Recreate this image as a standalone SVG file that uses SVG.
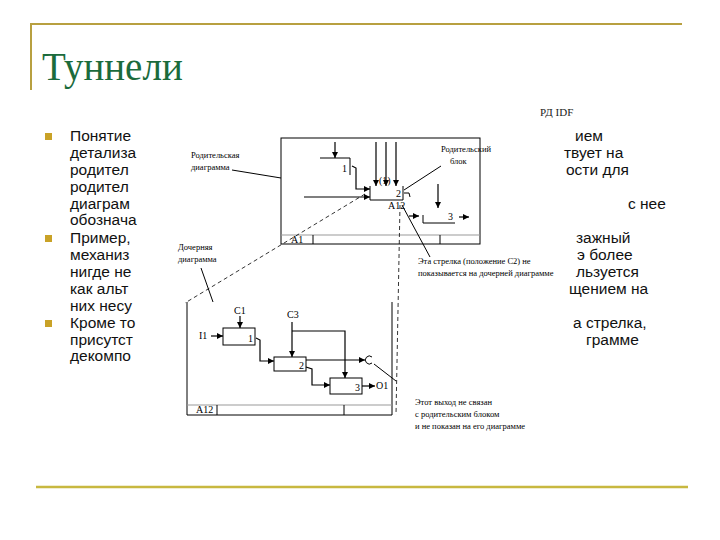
<svg xmlns="http://www.w3.org/2000/svg" width="720" height="540" viewBox="0 0 720 540">
<defs>
<marker id="ah" viewBox="0 0 10 10" refX="10" refY="5" markerWidth="5" markerHeight="5" orient="auto"><path d="M0,0 L10,5 L0,10 z" fill="#000"/></marker>
<style>
.t{font-family:"Liberation Sans",Arial,sans-serif;font-size:15.5px;fill:#111}
.s{font-family:"Liberation Serif","Times New Roman",serif;font-size:8.5px;fill:#000}
.n{font-family:"Liberation Serif","Times New Roman",serif;font-size:10px;fill:#000}
.l{stroke:#000;stroke-width:1;fill:none}
.a{stroke:#000;stroke-width:1.2;fill:none;marker-end:url(#ah)}
.d{stroke:#000;stroke-width:0.8;fill:none;stroke-dasharray:4,3}
.g{stroke:#999;stroke-width:1}
.b{fill:#c9a227}
</style>
</defs>
<rect width="720" height="540" fill="#fff"/>
<g id="frame">
<line x1="30" y1="24" x2="682" y2="24" stroke="#b8a040" stroke-width="2"/>
<line x1="31" y1="23" x2="31" y2="90" stroke="#b8a040" stroke-width="2"/>
<line x1="36" y1="487" x2="688" y2="487" stroke="#c8b840" stroke-width="2.5"/>
<text x="42" y="80" font-family="Liberation Serif,serif" font-size="39" fill="#1b6b3c">Туннели</text>
</g>
<g id="body">
<rect class="b" x="45" y="133" width="7" height="7"/>
<rect class="b" x="45" y="235" width="7" height="7"/>
<rect class="b" x="45" y="320" width="7" height="7"/>
<text class="t" x="70" y="141">Понятие</text>
<text class="t" x="70" y="158">детализа</text>
<text class="t" x="70" y="175">родител</text>
<text class="t" x="70" y="192">родител</text>
<text class="t" x="70" y="209">диаграм</text>
<text class="t" x="70" y="225">обознача</text>
<text class="t" x="70" y="243">Пример,</text>
<text class="t" x="70" y="260">механиз</text>
<text class="t" x="70" y="277">нигде не</text>
<text class="t" x="70" y="294">как альт</text>
<text class="t" x="70" y="311">них несу</text>
<text class="t" x="70" y="328">Кроме то</text>
<text class="t" x="70" y="345">присутст</text>
<text class="t" x="70" y="361">декомпо</text>
<text class="t" x="575" y="141">ием</text>
<text class="t" x="564" y="158">твует на</text>
<text class="t" x="566" y="175">ости для</text>
<text class="t" x="628" y="209">с нее</text>
<text class="t" x="576" y="243">зажный</text>
<text class="t" x="577" y="260">э более</text>
<text class="t" x="576" y="277">льзуется</text>
<text class="t" x="569" y="294">щением на</text>
<text class="t" x="573" y="328">а стрелка,</text>
<text class="t" x="586" y="345">грамме</text>
<text x="540" y="116" font-family="Liberation Serif,serif" font-size="11" fill="#222">РД IDF</text>
</g>
<g id="parent">
<rect x="281" y="138" width="199" height="106" class="l"/>
<line x1="281" y1="235" x2="480" y2="235" class="g"/>
<line x1="313" y1="235" x2="313" y2="244" class="l"/>
<line x1="440" y1="235" x2="440" y2="244" class="l"/>
<text class="n" x="291" y="243">A1</text>
<polyline points="320,158 350,158 350,175" class="l"/>
<text class="n" x="342" y="172">1</text>
<polyline points="370,200 403,200" class="l"/>
<line x1="370" y1="186" x2="370" y2="200" class="l"/>
<line x1="403" y1="186" x2="403" y2="200" class="l"/>
<text class="n" x="396" y="197">2</text>
<text class="n" x="388" y="209">A12</text>
<text class="n" x="379" y="184">(1)</text>
<polyline points="423,215 423,223 455,223" class="l"/>
<text class="n" x="448" y="220">3</text>
</g>
<g id="child">
<polyline points="187,302 187,415 392,415 392,302" class="l"/>
<line x1="187" y1="405" x2="392" y2="405" class="g"/>
<line x1="217" y1="405" x2="217" y2="415" class="l"/>
<line x1="344" y1="405" x2="344" y2="415" class="l"/>
<text class="n" x="196" y="413">A12</text>
<rect x="223" y="328" width="32" height="17" class="l"/>
<text class="n" x="248" y="342">1</text>
<rect x="274" y="357" width="32" height="14" class="l"/>
<text class="n" x="299" y="369">2</text>
<rect x="330" y="378" width="32" height="16" class="l"/>
<text class="n" x="355" y="391">3</text>
<text class="n" x="234" y="314">C1</text>
<text class="n" x="287" y="318">C3</text>
<text class="n" x="199" y="339">I1</text>
<text class="n" x="376" y="389">O1</text>
<path d="M372,357 A4,4 0 1 0 372,363" class="l"/>
</g>
<g id="labels">
<text class="s" x="191" y="158">Родительская</text>
<text class="s" x="191" y="170">диаграмма</text>
<text class="s" x="441" y="152">Родительский</text>
<text class="s" x="450" y="164">блок</text>
<text class="s" x="178" y="250">Дочерняя</text>
<text class="s" x="178" y="262">диаграмма</text>
<text class="s" x="418" y="264">Эта стрелка (положение С2) не</text>
<text class="s" x="418" y="276">показывается на дочерней диаграмме</text>
<text class="s" x="415" y="405">Этот выход не связан</text>
<text class="s" x="415" y="417">с родительским блоком</text>
<text class="s" x="415" y="429">и не показан на его диаграмме</text>
</g>
<g id="connectors">
<line x1="335" y1="142" x2="335" y2="158" class="a"/>
<line x1="376" y1="142" x2="376" y2="186" class="a"/>
<line x1="386" y1="142" x2="386" y2="186" class="a"/>
<line x1="396" y1="142" x2="396" y2="186" class="a"/>
<line x1="438" y1="184" x2="438" y2="208" class="a"/>
<polyline points="352,166 356,168 356,189 370,189" class="a"/>
<line x1="304" y1="197" x2="370" y2="197" class="a"/>
<polyline points="404,193 409,193 410,197" class="l"/>
<line x1="409" y1="216" x2="419" y2="216" class="a"/>
<line x1="459" y1="217" x2="469" y2="217" class="a"/>
<line x1="232" y1="170" x2="281" y2="178" class="l"/>
<line x1="441" y1="166" x2="404" y2="190" class="l"/>
<line x1="402" y1="205" x2="430" y2="257" class="l"/>
<line x1="201" y1="268" x2="213" y2="302" class="l"/>
<line x1="374" y1="364" x2="396" y2="381" class="l"/>
<line x1="365" y1="194" x2="185" y2="303" class="d"/>
<line x1="400" y1="205" x2="396" y2="415" class="d"/>
<line x1="240" y1="316" x2="240" y2="328" class="a"/>
<line x1="211" y1="336" x2="223" y2="336" class="a"/>
<line x1="292" y1="322" x2="292" y2="357" class="a"/>
<polyline points="292,331 345,331 345,378" class="a"/>
<polyline points="256,338 260,340 260,361 274,361" class="a"/>
<polyline points="306,367 312,369 312,385 330,385" class="a"/>
<line x1="306" y1="360" x2="365" y2="360" class="a"/>
<line x1="362" y1="386" x2="375" y2="386" class="a"/>
</g>
</svg>
